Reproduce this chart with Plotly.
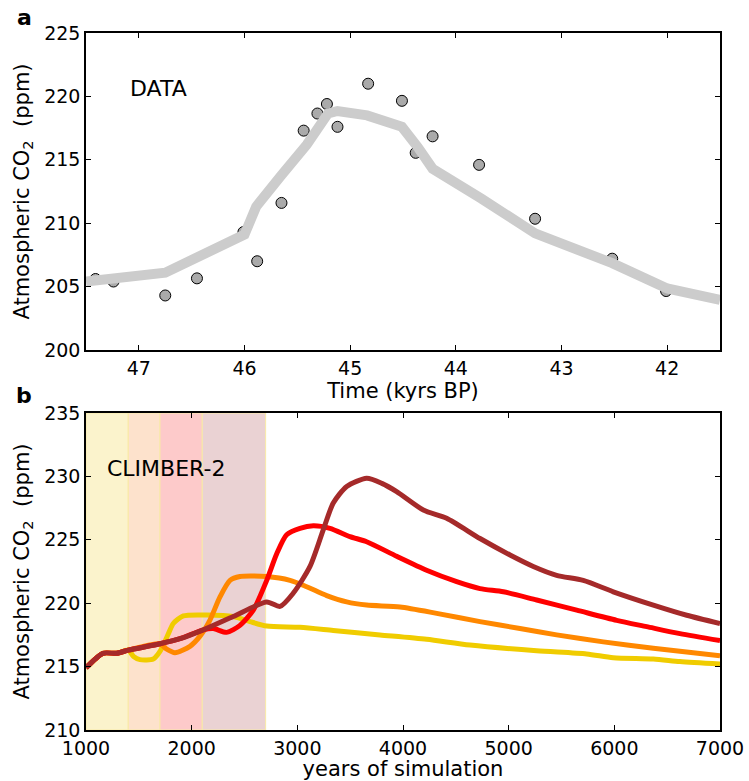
import plotly.graph_objects as go

# ---- Panel a: ice-core data ----
data_time = [47.41, 47.24, 46.75, 46.45, 46.01, 45.88, 45.65, 45.44, 45.31, 45.22,
             45.12, 44.83, 44.51, 44.38, 44.22, 43.78, 43.25, 42.52, 42.01]
data_co2 = [205.6, 205.4, 204.3, 205.65, 209.3, 207.0, 211.6, 217.3, 218.65, 219.4,
            217.6, 221.0, 219.65, 215.55, 216.85, 214.6, 210.35, 207.2, 204.65]

fit_time = [47.5, 46.75, 46.0, 45.89, 45.65, 45.41, 45.21, 45.12, 44.84, 44.51,
            44.36, 44.22, 43.76, 43.25, 42.52, 42.0, 41.5]
fit_co2 = [205.4, 206.1, 209.1, 211.3, 213.8, 216.2, 218.65, 218.85, 218.5, 217.6,
           216.0, 214.3, 211.95, 209.2, 206.85, 204.85, 203.95]

# ---- Panel b: CLIMBER-2 simulations ----
yellow_years = [1000, 1160, 1290, 1400, 1450, 1511, 1637, 1700, 1780, 1826, 1921,
                2142, 2394, 2552, 2710, 3025, 3340, 3782, 4223, 4634, 5265, 5738,
                5990, 6369, 6621, 7000]
yellow_co2 = [214.9, 216.05, 216.05, 216.3, 215.8, 215.55, 215.6, 216.2, 217.6,
              218.4, 219.0, 219.07, 218.95, 218.55, 218.2, 218.1, 217.85, 217.5,
              217.15, 216.7, 216.25, 216.0, 215.7, 215.6, 215.4, 215.2]

orange_years = [1000, 1160, 1290, 1400, 1700, 1760, 1842, 1984, 2079, 2173, 2268,
                2363, 2457, 2710, 2931, 3088, 3278, 3467, 3656, 3972, 4319, 4729,
                5107, 5454, 5896, 6369, 7000]
orange_co2 = [214.9, 216.05, 216.05, 216.3, 216.8, 216.4, 216.1, 216.6, 217.4,
              218.67, 220.5, 221.8, 222.1, 222.1, 221.8, 221.3, 220.6, 220.1, 219.85,
              219.7, 219.2, 218.55, 218.0, 217.5, 216.95, 216.45, 215.85]

red_years = [1000, 1160, 1290, 1400, 1700, 1890, 2110, 2205, 2331, 2457, 2583, 2710,
             2805, 2899, 3025, 3151, 3309, 3498, 3656, 3940, 4223, 4508, 4729, 4950,
             5265, 5644, 6022, 6306, 6621, 7000]
red_co2 = [214.9, 216.05, 216.05, 216.3, 216.8, 217.2, 217.9, 218.0, 217.7, 218.25,
           219.45, 221.8, 223.9, 225.4, 225.9, 226.1, 225.9, 225.25, 224.85, 223.7,
           222.6, 221.7, 221.15, 220.9, 220.25, 219.45, 218.65, 218.15, 217.6, 217.05]

brown_years = [1000, 1160, 1290, 1400, 1700, 1890, 2110, 2394, 2710, 2836, 2962,
               3120, 3246, 3340, 3467, 3656, 3800, 3940, 4192, 4413, 4729, 5013,
               5233, 5454, 5706, 5990, 6369, 6685, 7000]
brown_co2 = [214.9, 216.05, 216.05, 216.3, 216.8, 217.2, 217.9, 218.95, 220.1,
             219.75, 220.8, 222.9, 225.8, 227.9, 229.2, 229.85, 229.45, 228.8, 227.35,
             226.7, 225.1, 223.8, 222.9, 222.2, 221.8, 220.9, 219.85, 219.05, 218.4]

span_start = [1000, 1400, 1700, 2100]
span_end = [1400, 1700, 2100, 2700]
span_colors = ["#fbf3cc", "#fde2cc", "#fdcaca", "#ead2d3"]

a_xticks = [47, 46, 45, 44, 43, 42]
a_yticks = [200, 205, 210, 215, 220, 225]
b_xticks = [1000, 2000, 3000, 4000, 5000, 6000, 7000]
b_yticks = [210, 215, 220, 225, 230, 235]

FONT = "DejaVu Sans"
fig = go.Figure()

fig.add_trace(go.Scatter(x=data_time, y=data_co2, mode="markers",
                         marker=dict(size=11, color="#aaaaaa",
                                     line=dict(color="black", width=1)),
                         xaxis="x", yaxis="y", showlegend=False))
fig.add_trace(go.Scatter(x=fit_time, y=fit_co2, mode="lines",
                         line=dict(color="#cccccc", width=10),
                         xaxis="x", yaxis="y", showlegend=False))

for xs, ys, col in [(yellow_years, yellow_co2, "#f0cc00"),
                    (orange_years, orange_co2, "#ff8800"),
                    (red_years, red_co2, "#ff0000"),
                    (brown_years, brown_co2, "#a52a2a")]:
    fig.add_trace(go.Scatter(x=xs, y=ys, mode="lines",
                             line=dict(color=col, width=5, shape="spline", smoothing=0.7),
                             xaxis="x2", yaxis="y2", showlegend=False))

shapes = []
for s, e, c in zip(span_start, span_end, span_colors):
    shapes.append(dict(type="rect", xref="x2", yref="y2 domain", x0=s, x1=e, y0=0, y1=1,
                       fillcolor=c, line=dict(color="#f8eaa6", width=1), layer="below"))

axis_common = dict(showgrid=False, zeroline=False, showline=True, linecolor="black",
                   linewidth=1.5, mirror="allticks", ticks="inside", ticklen=5,
                   tickwidth=1, tickcolor="black", automargin=False,
                   tickfont=dict(family=FONT, size=19, color="black"))

TF = dict(family=FONT, size=21)
ytitle = "Atmospheric CO<sub>2</sub>  (ppm)"
fig.update_layout(
    width=749, height=781,
    margin=dict(l=86, r=29, t=33, b=51, autoexpand=False),
    plot_bgcolor="white", paper_bgcolor="white",
    font=dict(family=FONT, color="black"),
    xaxis=dict(domain=[0, 1], range=[47.5, 41.5], tickvals=a_xticks, anchor="y",
               title=dict(text="Time (kyrs BP)", font=TF, standoff=0),
               **axis_common),
    yaxis=dict(domain=[0.5452, 1], range=[200, 225], tickvals=a_yticks, anchor="x",
               title=dict(text=ytitle, font=TF, standoff=9),
               **axis_common),
    xaxis2=dict(domain=[0, 1], range=[1000, 7000], tickvals=b_xticks, anchor="y2",
                title=dict(text="years of simulation", font=TF, standoff=0),
                **axis_common),
    yaxis2=dict(domain=[0, 0.4548], range=[210, 235], tickvals=b_yticks, anchor="x2",
                title=dict(text=ytitle, font=TF, standoff=9),
                **axis_common),
    shapes=shapes,
    annotations=[
        dict(text="<b>a</b>", xref="paper", yref="paper", x=(24 - 86) / 634, y=(730 - 17) / 697,
             showarrow=False, font=dict(family=FONT, size=22), xanchor="center", yanchor="middle"),
        dict(text="<b>b</b>", xref="paper", yref="paper", x=(24 - 86) / 634, y=(730 - 396) / 697,
             showarrow=False, font=dict(family=FONT, size=22), xanchor="center", yanchor="middle"),
        dict(text="DATA", xref="paper", yref="paper", x=(158 - 86) / 634, y=(730 - 89) / 697,
             showarrow=False, font=dict(family=FONT, size=22), xanchor="center", yanchor="middle"),
        dict(text="CLIMBER-2", xref="paper", yref="paper", x=(166 - 86) / 634, y=(730 - 469) / 697,
             showarrow=False, font=dict(family=FONT, size=22), xanchor="center", yanchor="middle"),
    ],
)

fig.write_html("out.html", config={"displayModeBar": False},
               post_script="document.body.style.margin='0';")
